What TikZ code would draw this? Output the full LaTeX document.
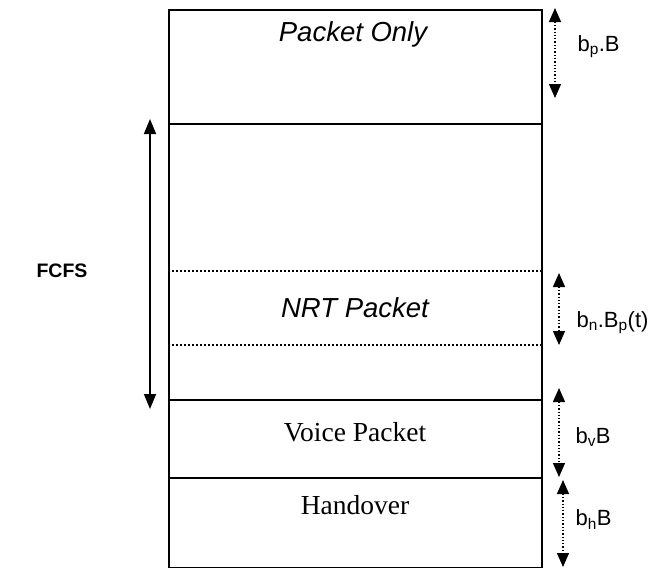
\documentclass[tikz,border=0pt]{standalone}
\usepackage{fontspec}
\setmainfont{Liberation Serif}
\setsansfont{Liberation Sans}
\usetikzlibrary{arrows.meta,positioning,calc}

\begin{document}
\begin{tikzpicture}[x=1pt, y=-1pt,
    band/.style={rectangle, draw, line width=2pt, minimum width=373pt, anchor=north west, inner sep=0pt},
    divider/.style={dotted, line width=2pt},
    zone/.style={font=\sffamily\itshape\fontsize{27.5}{31}\selectfont},
    plain/.style={font=\fontsize{27.5}{31}\selectfont},
    size/.style={font=\sffamily\fontsize{22}{25}\selectfont, anchor=west},
    span/.style={dotted, line width=1.3pt, {Triangle[width=12pt,length=14pt]}-{Triangle[width=12pt,length=14pt]}},
    queue/.style={line width=1.6pt, {Triangle[width=12pt,length=15pt]}-{Triangle[width=12pt,length=15pt]}}
]
\useasboundingbox (0,0) rectangle (654,568);

% Bands
\node[band, minimum height=114pt] (only) at (168,9) {};
\node[band, minimum height=276pt] (shared) at (168,123) {};
\node[band, minimum height=78pt] (voice) at (168,399) {};
\node[band, minimum height=90pt] (hand) at (168,477) {};

% NRT limits
\coordinate (nrtA) at (168,271);
\coordinate (nrtB) at (168,345);
\draw[divider] (nrtA) -- (nrtA -| shared.east);
\draw[divider] (nrtB) -- (nrtB -| shared.east);

% Texts
\node[zone] (onlytxt) at (353,34) {Packet Only};
\node[zone] (nrttxt) at (355,308) {NRT Packet};
\node[plain] (voicetxt) at (355,432) {Voice Packet};
\node[plain] (handtxt) at (355,505) {Handover};
\node[font=\sffamily\bfseries\fontsize{19.5}{22}\selectfont] (fcfs) at (62,271) {FCFS};

% Sizes
\coordinate (bpA) at (555,8);   \coordinate (bpB) at (555,98);
\coordinate (bnA) at (559,273); \coordinate (bnB) at (559,345);
\coordinate (bvA) at (559,388); \coordinate (bvB) at (559,477);
\coordinate (bhA) at (563,480); \coordinate (bhB) at (563,567);
\draw[span] (bpA) -- (bpB);
\draw[span] (bnA) -- (bnB);
\draw[span] (bvA) -- (bvB);
\draw[span] (bhA) -- (bhB);
\node[size] (bp) at (574,47) {b\textsubscript{p}.B};
\node[size] (bn) at (573,323) {b\textsubscript{n}.B\textsubscript{p}(t)};
\node[size] (bv) at (572,437) {b\textsubscript{v}B};
\node[size] (bh) at (572,520) {b\textsubscript{h}B};

% FCFS span
\coordinate (fcA) at (150,119);
\coordinate (fcB) at (150,409);
\draw[queue] (fcA) -- (fcB);

\end{tikzpicture}
\end{document}
